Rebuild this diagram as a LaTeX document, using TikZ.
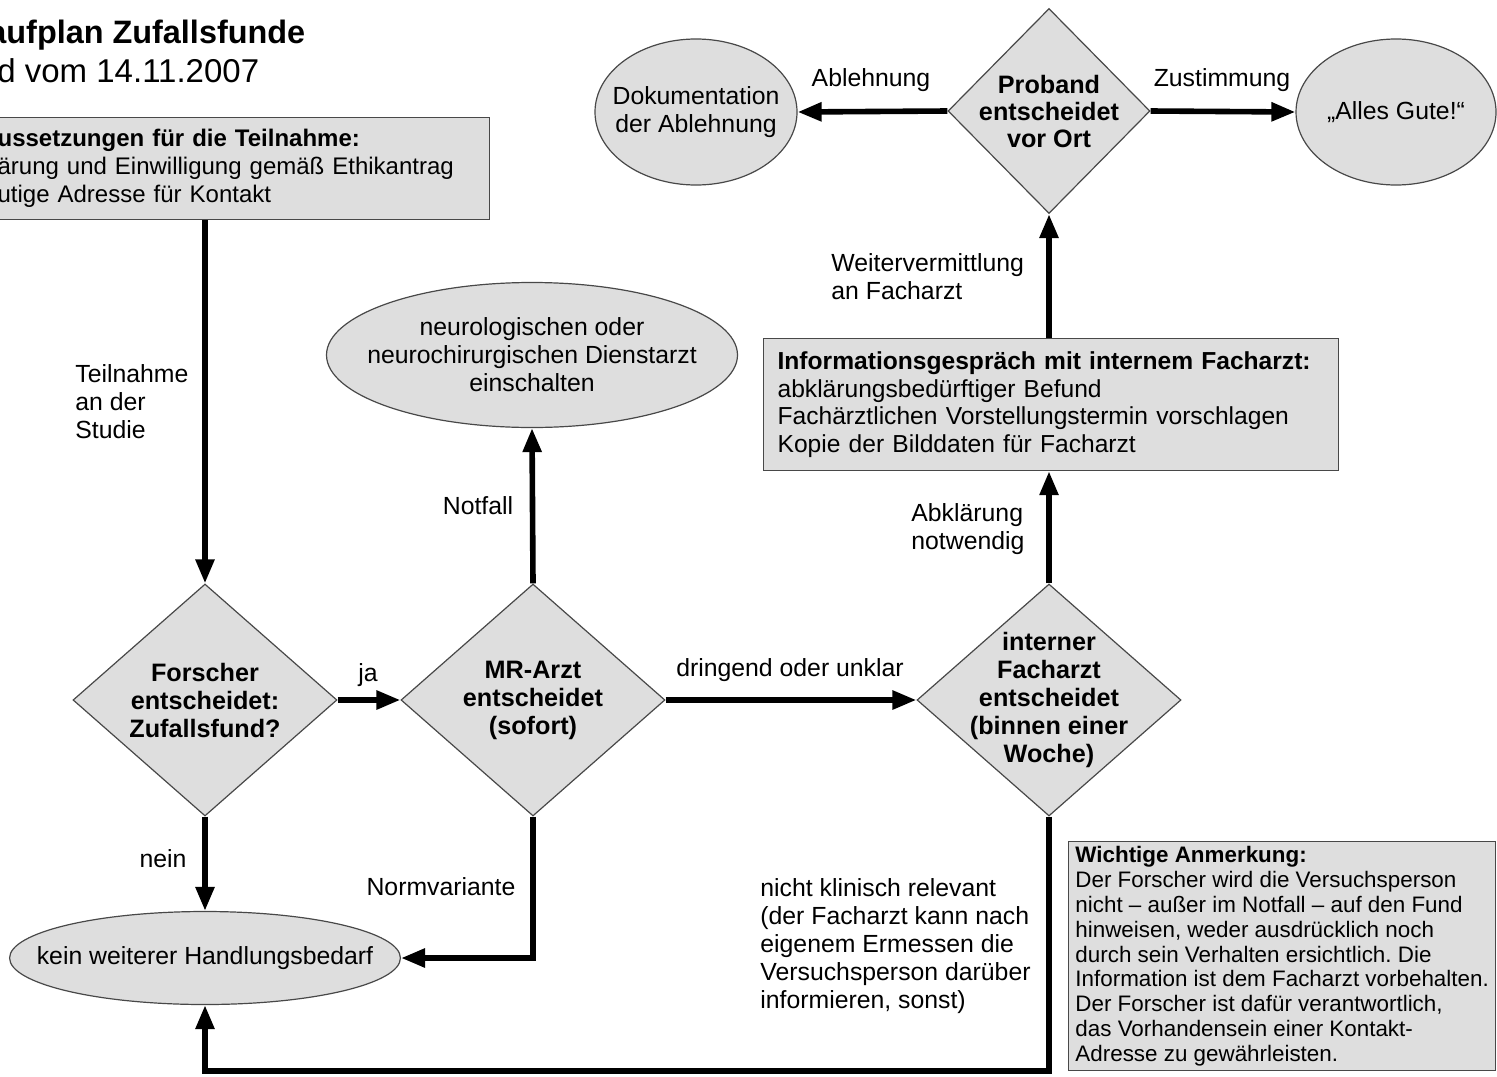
\documentclass[tikz,border=0pt]{standalone}
\usepackage{fontspec}
\setmainfont{Liberation Sans}
\usetikzlibrary{shapes.geometric,arrows.meta}
\definecolor{boxgray}{RGB}{222,222,222}
\definecolor{edgegray}{RGB}{72,72,72}
\frenchspacing
\hyphenpenalty=10000
\tikzset{
  decision/.style={diamond,draw=edgegray,fill=boxgray,line width=0.6pt,aspect=1.14,inner sep=-8pt,
    minimum width=132pt,minimum height=116pt,align=center,font=\fontsize{12.6}{14}\selectfont\bfseries},
  terminal/.style={ellipse,draw=edgegray,fill=boxgray,line width=0.6pt,inner xsep=-15pt,inner ysep=0pt,
    align=center,font=\fontsize{12.4}{14}\selectfont},
  infobox/.style={rectangle,draw=edgegray,fill=boxgray,line width=0.6pt,align=left,anchor=north west},
  flow/.style={line width=2.8pt,-{Triangle[length=12pt,width=9pt]}},
  lbl/.style={inner sep=0pt,font=\fontsize{12.4}{14}\selectfont}
}
\begin{document}
\begin{tikzpicture}[x=0.5pt,y=0.5pt,yscale=-1,xscale=1]
\useasboundingbox (0,0) rectangle (1497,1076);
\clip (0,0) rectangle (1497,1076);
\node [inner sep=0pt,anchor=west,font=\fontsize{16.2}{18}\selectfont\bfseries] (title) at (-12,35) {aufplan Zufallsfunde};
\node [inner sep=0pt,anchor=west,font=\fontsize{16.5}{18}\selectfont] (stand) at (-3,71) {d vom 14.11.2007};
\node [infobox,text width=241.5pt,inner xsep=4.5pt,minimum height=51pt,font=\fontsize{12}{14}\selectfont] (vor) at (-12,117)
  {\textbf{ussetzungen für die Teilnahme:}\\ärung und Einwilligung gemäß Ethikantrag\\utige Adresse für Kontakt};
\node [decision] (forscher) at (205,700) {Forscher\\entscheidet:\\Zufallsfund?};
\node [decision] (mr) at (533,700) {MR-Arzt\\entscheidet\\(sofort)};
\node [decision] (intern) at (1049,700) {interner\\Facharzt\\entscheidet\\(binnen einer\\Woche)};
\node [decision,aspect=1,minimum width=101pt,minimum height=102.5pt,font=\fontsize{12.6}{13.5}\selectfont\bfseries] (proband) at (1049,111) {Proband\\entscheidet\\vor Ort};
\node [terminal,minimum width=101pt,minimum height=73pt] (doku) at (696,112) {Dokumentation\\der Ablehnung};
\node [terminal,minimum width=100pt,minimum height=73pt] (gute) at (1396,112) {„Alles Gute!“};
\node [terminal,minimum width=205.5pt,minimum height=72.5pt] (neuro) at (532,355) {neurologischen oder\\neurochirurgischen Dienstarzt\\einschalten};
\node [terminal,minimum width=192.5pt,minimum height=46.5pt] (kein) at (205,958) {kein weiterer Handlungsbedarf};
\node [infobox,text width=273.5pt,inner xsep=7pt,minimum height=66pt,font=\fontsize{12.3}{13.7}\selectfont] (info) at (763,338)
  {\textbf{Informationsgespräch mit internem Facharzt:}\\abklärungsbedürftiger Befund\\Fachärztlichen Vorstellungstermin vorschlagen\\Kopie der Bilddaten für Facharzt};
\node [infobox,minimum width=213.5pt,inner xsep=2pt,inner ysep=2.5pt,font=\fontsize{11.2}{12.4}\selectfont] (note) at (1068,841)
  {\textbf{Wichtige Anmerkung:}\\Der Forscher wird die Versuchsperson\\nicht – außer im Notfall – auf den Fund\\hinweisen, weder ausdrücklich noch\\durch sein Verhalten ersichtlich. Die\\Information ist dem Facharzt vorbehalten.\\Der Forscher ist dafür verantwortlich,\\das Vorhandensein einer Kontakt-\\Adresse zu gewährleisten.};
\coordinate (loopbase) at (0,1071);
\draw [flow] (forscher.north |- vor.south) -- (forscher.north);
\draw [flow] (forscher.east) -- (mr.west);
\draw [flow] (mr.east) -- (intern.west);
\draw [flow] (mr.north) -- (neuro.south);
\draw [flow] (intern.north) -- (intern.north |- info.south);
\draw [flow] (info.north -| proband.south) -- (proband.south);
\draw [flow] (proband.west) -- (doku.east);
\draw [flow] (proband.east) -- (gute.west);
\draw [flow] (forscher.south) -- (kein.north);
\draw [flow] (mr.south) |- (kein.east);
\draw [flow] (intern.south) -- (intern.south |- loopbase) -| (kein.south);
\node [lbl,align=left,anchor=west] (teilnahme) at (75,402) {Teilnahme\\an der\\Studie};
\node [lbl] (ja) at (368,675) {ja};
\node [lbl] (nein) at (163,859) {nein};
\node [lbl] (notfall) at (478,506) {Notfall};
\node [lbl] (normvariante) at (441,887) {Normvariante};
\node [lbl] (dringend) at (790,670) {dringend oder unklar};
\node [lbl,align=left,anchor=west,font=\fontsize{12.4}{13.9}\selectfont] (irrelevant) at (760,946)
  {nicht klinisch relevant\\(der Facharzt kann nach\\eigenem Ermessen die\\Versuchsperson darüber\\informieren, sonst)};
\node [lbl,align=left,anchor=west] (abklaerung) at (911,529) {Abklärung\\notwendig};
\node [lbl,align=left,anchor=west] (weiter) at (831,277) {Weitervermittlung\\an Facharzt};
\node [lbl] (ablehnung) at (871,80) {Ablehnung};
\node [lbl] (zustimmung) at (1222,80) {Zustimmung};
\end{tikzpicture}
\end{document}
